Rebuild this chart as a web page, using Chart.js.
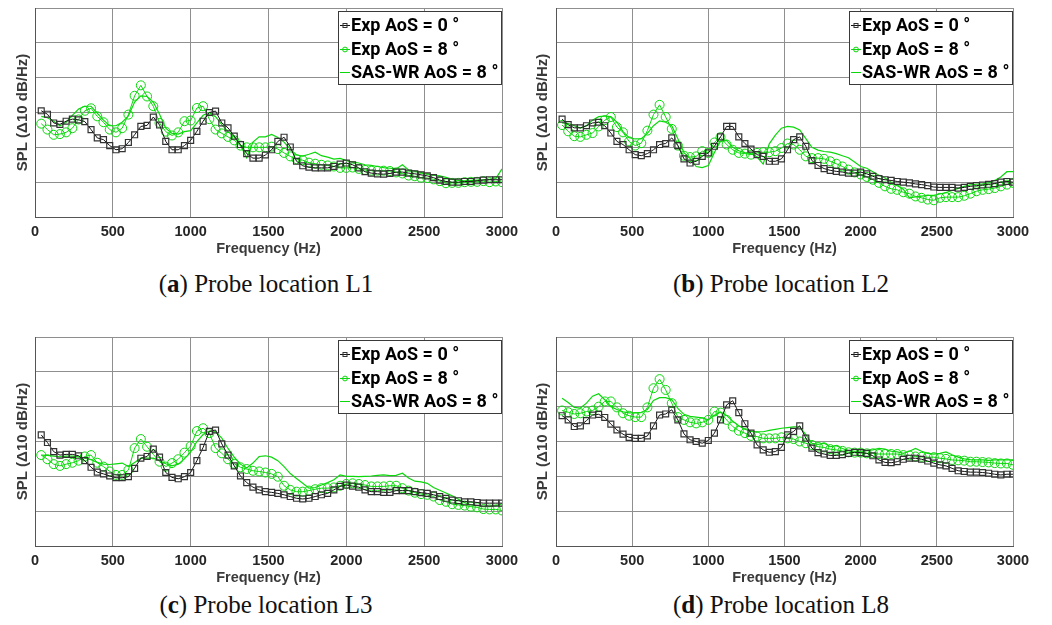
<!DOCTYPE html>
<html>
<head>
<meta charset="utf-8">
<script src="https://cdn.jsdelivr.net/npm/chart.js@4.4.1/dist/chart.umd.min.js"></script>
<style>
  body { margin: 0; background: #fff; width: 1052px; height: 625px; overflow: hidden; position: relative; }
  .panel { position: absolute; }
  .caption {
    position: absolute; width: 320px; text-align: center;
    font-family: 'Liberation Serif', 'Times New Roman', serif; font-size: 25px; line-height: 25px; color: #111;
  }
</style>
</head>
<body>
<div class="panel" style="left:0;top:0"><canvas id="chart-l1" width="520" height="258"></canvas></div>
<div class="panel" style="left:520px;top:0"><canvas id="chart-l2" width="532" height="258"></canvas></div>
<div class="panel" style="left:0;top:320px"><canvas id="chart-l3" width="520" height="267"></canvas></div>
<div class="panel" style="left:520px;top:320px"><canvas id="chart-l8" width="532" height="267"></canvas></div>
<div class="caption" style="left:106px;top:271px">(<b>a</b>) Probe location L1</div>
<div class="caption" style="left:621px;top:271px">(<b>b</b>) Probe location L2</div>
<div class="caption" style="left:106px;top:592px">(<b>c</b>) Probe location L3</div>
<div class="caption" style="left:621px;top:592px">(<b>d</b>) Probe location L8</div>
<script>
// frequency samples (Hz)
const freqHz = [40, 80, 120, 160, 200, 240, 280, 320, 360, 400, 440, 480, 520, 560, 600,
  640, 680, 720, 760, 800, 840, 880, 920, 960, 1000, 1040, 1080, 1120, 1160, 1200,
  1240, 1280, 1320, 1360, 1400, 1440, 1480, 1520, 1560, 1600, 1640, 1680, 1720, 1760, 1800,
  1840, 1880, 1920, 1960, 2000, 2040, 2080, 2120, 2160, 2200, 2240, 2280, 2320, 2360, 2400,
  2440, 2480, 2520, 2560, 2600, 2640, 2680, 2720, 2760, 2800, 2840, 2880, 2920, 2960, 3000];
const tickHz = [0, 500, 1000, 1500, 2000, 2500, 3000];
const seriesNames = ['Exp AoS = 0 °', 'Exp AoS = 8 °', 'SAS-WR AoS = 8 °'];

// SPL in 10 dB/Hz steps (relative)
const l1Exp0 = [3.05, 2.95, 2.70, 2.66, 2.75, 2.81, 2.79, 2.74, 2.51, 2.27, 2.22, 2.05, 1.93, 1.96, 2.14,
  2.36, 2.60, 2.63, 2.87, 2.64, 2.17, 1.93, 1.93, 2.05, 2.20, 2.46, 2.75, 3.00, 3.04, 2.70,
  2.56, 2.32, 2.08, 1.82, 1.69, 1.69, 1.78, 1.93, 2.17, 2.29, 2.01, 1.60, 1.47, 1.43, 1.41,
  1.41, 1.41, 1.45, 1.52, 1.55, 1.50, 1.41, 1.30, 1.26, 1.24, 1.23, 1.25, 1.29, 1.29, 1.26,
  1.24, 1.21, 1.18, 1.13, 1.06, 1.02, 1.00, 1.00, 1.02, 1.02, 1.04, 1.06, 1.07, 1.07, 1.07];
const l1Exp8 = [2.68, 2.51, 2.36, 2.38, 2.43, 2.55, 2.80, 3.05, 3.12, 2.89, 2.72, 2.51, 2.43, 2.55, 2.94,
  3.48, 3.78, 3.46, 3.18, 2.70, 2.45, 2.34, 2.43, 2.75, 2.77, 3.13, 3.18, 2.81, 2.51, 2.40,
  2.30, 2.20, 2.05, 2.00, 2.00, 2.00, 2.00, 2.02, 1.95, 1.84, 1.74, 1.66, 1.63, 1.56, 1.53,
  1.50, 1.48, 1.45, 1.41, 1.41, 1.42, 1.38, 1.35, 1.33, 1.33, 1.33, 1.32, 1.28, 1.25, 1.19,
  1.17, 1.13, 1.12, 1.08, 1.03, 0.97, 0.98, 0.98, 1.00, 1.01, 1.01, 1.03, 1.00, 1.02, 1.00];
const l1Sas = [2.89, 2.85, 2.75, 2.62, 2.72, 2.92, 3.10, 3.18, 3.18, 2.98, 2.78, 2.62, 2.62, 2.72, 2.90,
  3.30, 3.48, 3.46, 3.30, 2.95, 2.55, 2.40, 2.38, 2.45, 2.48, 2.70, 2.92, 3.00, 2.88, 2.65,
  2.45, 2.30, 2.05, 1.70, 2.15, 2.30, 2.30, 2.37, 2.28, 2.15, 1.95, 1.78, 1.75, 1.80, 1.86,
  1.76, 1.72, 1.66, 1.68, 1.62, 1.58, 1.55, 1.50, 1.48, 1.45, 1.42, 1.40, 1.38, 1.50, 1.35,
  1.32, 1.28, 1.22, 1.20, 1.18, 1.14, 1.08, 1.05, 1.04, 1.05, 1.06, 1.07, 1.08, 1.10, 1.38];

const l2Exp0 = [2.81, 2.65, 2.56, 2.56, 2.62, 2.70, 2.72, 2.62, 2.41, 2.17, 2.08, 1.93, 1.79, 1.76, 1.82,
  1.93, 2.08, 2.11, 2.27, 2.05, 1.67, 1.55, 1.60, 1.74, 1.84, 2.03, 2.30, 2.60, 2.60, 2.30,
  2.11, 1.95, 1.79, 1.74, 1.60, 1.60, 1.67, 1.93, 2.22, 2.30, 2.03, 1.62, 1.48, 1.39, 1.34,
  1.31, 1.29, 1.26, 1.26, 1.29, 1.24, 1.17, 1.10, 1.07, 1.05, 1.02, 1.00, 0.98, 0.95, 0.93,
  0.90, 0.86, 0.85, 0.85, 0.85, 0.83, 0.85, 0.88, 0.90, 0.92, 0.94, 0.96, 1.00, 1.02, 1.00];
const l2Exp8 = [2.64, 2.46, 2.32, 2.30, 2.36, 2.41, 2.60, 2.78, 2.87, 2.58, 2.43, 2.17, 2.05, 2.12, 2.48,
  2.94, 3.22, 2.87, 2.53, 2.05, 1.76, 1.72, 1.74, 1.89, 1.84, 2.14, 2.29, 2.08, 1.93, 1.84,
  1.82, 1.79, 1.84, 1.86, 1.86, 1.89, 1.98, 2.11, 2.08, 1.93, 1.74, 1.69, 1.69, 1.67, 1.60,
  1.53, 1.45, 1.36, 1.28, 1.22, 1.15, 1.07, 0.98, 0.88, 0.81, 0.78, 0.71, 0.67, 0.59, 0.55,
  0.50, 0.48, 0.55, 0.57, 0.57, 0.57, 0.61, 0.67, 0.74, 0.78, 0.80, 0.83, 0.88, 0.93, 0.98];
const l2Sas = [2.70, 2.68, 2.62, 2.55, 2.62, 2.78, 2.88, 2.90, 2.88, 2.72, 2.45, 2.28, 2.24, 2.25, 2.40,
  2.62, 2.76, 2.72, 2.62, 2.25, 1.85, 1.68, 1.45, 1.42, 1.48, 1.85, 2.18, 2.20, 2.00, 1.90,
  1.85, 1.82, 1.72, 1.52, 2.10, 2.35, 2.55, 2.60, 2.58, 2.50, 2.25, 2.00, 1.92, 1.88, 1.86,
  1.82, 1.76, 1.70, 1.58, 1.45, 1.40, 1.30, 1.20, 1.12, 1.00, 0.90, 0.80, 0.55, 0.58, 0.60,
  0.62, 0.62, 0.66, 0.70, 0.76, 0.82, 0.88, 0.92, 0.94, 0.95, 0.98, 1.05, 1.15, 1.30, 1.30];

const l3Exp0 = [3.19, 2.97, 2.71, 2.61, 2.63, 2.63, 2.59, 2.45, 2.26, 2.12, 2.07, 2.01, 1.96, 1.96, 1.99,
  2.23, 2.52, 2.57, 2.78, 2.55, 2.11, 1.97, 1.93, 1.99, 2.11, 2.45, 2.83, 3.29, 3.33, 2.93,
  2.61, 2.30, 2.01, 1.82, 1.69, 1.61, 1.56, 1.54, 1.51, 1.47, 1.42, 1.37, 1.35, 1.37, 1.42,
  1.47, 1.51, 1.61, 1.71, 1.75, 1.72, 1.69, 1.61, 1.56, 1.56, 1.54, 1.54, 1.59, 1.59, 1.59,
  1.56, 1.53, 1.51, 1.47, 1.42, 1.37, 1.32, 1.30, 1.27, 1.27, 1.25, 1.23, 1.23, 1.23, 1.23];
const l3Exp8 = [2.61, 2.49, 2.35, 2.30, 2.35, 2.39, 2.45, 2.57, 2.61, 2.39, 2.28, 2.14, 2.04, 2.04, 2.18,
  2.81, 3.07, 2.85, 2.63, 2.42, 2.28, 2.38, 2.49, 2.68, 2.87, 3.30, 3.38, 3.24, 2.81, 2.66,
  2.49, 2.36, 2.26, 2.21, 2.16, 2.14, 2.11, 2.07, 1.99, 1.73, 1.61, 1.56, 1.56, 1.59, 1.63,
  1.66, 1.66, 1.68, 1.73, 1.78, 1.80, 1.78, 1.75, 1.71, 1.71, 1.71, 1.73, 1.73, 1.66, 1.59,
  1.53, 1.49, 1.47, 1.42, 1.32, 1.27, 1.20, 1.18, 1.16, 1.13, 1.11, 1.06, 1.05, 1.05, 1.02];
const l3Sas = [2.61, 2.60, 2.58, 2.56, 2.58, 2.58, 2.55, 2.52, 2.48, 2.40, 2.35, 2.34, 2.36, 2.38, 2.28,
  2.40, 2.52, 2.52, 2.52, 2.45, 2.36, 2.30, 2.35, 2.50, 2.70, 3.00, 3.20, 3.30, 3.28, 3.10,
  2.80, 2.55, 2.35, 2.24, 2.38, 2.57, 2.59, 2.55, 2.45, 2.28, 2.08, 1.94, 1.80, 1.66, 1.68,
  1.75, 1.82, 1.90, 2.04, 2.00, 2.00, 1.99, 2.00, 2.01, 2.03, 2.04, 2.02, 2.03, 2.09, 1.95,
  1.86, 1.84, 1.80, 1.68, 1.60, 1.52, 1.44, 1.34, 1.24, 1.18, 1.16, 1.13, 1.13, 1.16, 1.21];

const l8Exp0 = [3.74, 3.62, 3.43, 3.45, 3.60, 3.76, 3.78, 3.69, 3.50, 3.33, 3.21, 3.12, 3.09, 3.09, 3.16,
  3.45, 3.76, 3.79, 3.91, 3.62, 3.22, 3.05, 3.00, 2.95, 3.03, 3.24, 3.62, 4.05, 4.17, 3.83,
  3.51, 3.24, 2.90, 2.76, 2.69, 2.71, 2.83, 3.19, 3.29, 3.45, 3.10, 2.81, 2.68, 2.64, 2.60,
  2.60, 2.62, 2.66, 2.69, 2.68, 2.66, 2.59, 2.47, 2.40, 2.39, 2.42, 2.49, 2.52, 2.52, 2.49,
  2.44, 2.38, 2.33, 2.30, 2.23, 2.16, 2.14, 2.12, 2.12, 2.11, 2.09, 2.06, 2.04, 2.06, 2.06];
const l8Exp8 = [3.89, 3.84, 3.79, 3.81, 3.86, 3.89, 4.00, 4.15, 4.15, 3.98, 3.81, 3.74, 3.70, 3.70, 3.98,
  4.53, 4.79, 4.48, 4.10, 3.70, 3.62, 3.55, 3.52, 3.55, 3.62, 3.86, 3.83, 3.62, 3.43, 3.31,
  3.24, 3.16, 3.14, 3.09, 3.09, 3.09, 3.12, 3.09, 3.07, 3.00, 2.95, 2.90, 2.85, 2.83, 2.78,
  2.76, 2.73, 2.69, 2.68, 2.68, 2.66, 2.66, 2.64, 2.64, 2.64, 2.64, 2.61, 2.60, 2.57, 2.56,
  2.55, 2.55, 2.52, 2.50, 2.47, 2.46, 2.45, 2.42, 2.42, 2.41, 2.40, 2.38, 2.37, 2.37, 2.33];
const l8Sas = [4.24, 4.12, 3.98, 3.96, 4.10, 4.30, 4.37, 4.20, 4.00, 3.92, 3.85, 3.82, 3.82, 3.84, 3.92,
  4.18, 4.26, 4.26, 4.20, 3.95, 3.78, 3.72, 3.70, 3.68, 3.62, 3.75, 3.85, 3.75, 3.58, 3.45,
  3.35, 3.30, 3.28, 3.28, 3.32, 3.35, 3.38, 3.40, 3.42, 3.42, 3.20, 2.95, 2.92, 2.95, 2.85,
  2.88, 2.80, 2.74, 2.72, 2.72, 2.74, 2.76, 2.80, 2.78, 2.72, 2.70, 2.66, 2.72, 2.80, 2.72,
  2.66, 2.64, 2.66, 2.70, 2.62, 2.55, 2.50, 2.48, 2.47, 2.47, 2.46, 2.47, 2.47, 2.47, 2.47];

const GREEN = '#0ad80a';
const LEGEND_FONT = 'bold 18px Roboto';
const AXIS_FONT = 'Liberation Sans';

// legend box drawn inside the top-right corner of the plot
const boxLegend = {
  id: 'boxLegend',
  afterDatasetsDraw(chart) {
    const { ctx, chartArea } = chart;
    const sets = chart.data.datasets;
    ctx.save();
    ctx.font = LEGEND_FONT;
    const textW = Math.max(...sets.map(d => ctx.measureText(d.label).width));
    const w = Math.round(textW + 16);
    const h = 73;
    const x = Math.round(chartArea.right - 1 - w);
    const y = Math.round(chartArea.top + 3);
    ctx.fillStyle = '#fff';
    ctx.fillRect(x, y, w, h);
    ctx.strokeStyle = '#3a3a3a';
    ctx.lineWidth = 1;
    ctx.setLineDash([]);
    ctx.strokeRect(x + 0.5, y + 0.5, w, h);
    ctx.restore();

    sets.forEach((d, i) => {
      const cy = Math.round(y + 14 + i * 23.6) + 0.5;
      const mx = x + 7;
      ctx.save();
      ctx.setLineDash([]);
      ctx.lineWidth = 1;
      ctx.strokeStyle = d.borderColor;
      ctx.beginPath();
      ctx.moveTo(x + 2, cy);
      ctx.lineTo(x + 12, cy);
      ctx.stroke();
      if (d.pointStyle === 'rect') {
        ctx.strokeStyle = d.pointBorderColor;
        ctx.strokeRect(mx - 2, cy - 2, 4, 4);
      } else if (d.pointStyle === 'circle') {
        ctx.strokeStyle = d.pointBorderColor;
        ctx.beginPath();
        ctx.arc(mx, cy, 2.4, 0, Math.PI * 2);
        ctx.stroke();
      }
      ctx.font = LEGEND_FONT;
      ctx.fillStyle = '#000';
      ctx.textBaseline = 'middle';
      ctx.textAlign = 'left';
      ctx.fillText(d.label, x + 13, cy + 1);
      ctx.restore();
    });
  }
};

function toPoints(values) {
  return values.map((v, i) => ({ x: freqHz[i], y: v }));
}

function buildPanel(canvasId, exp0, exp8, sas, area) {
  const canvas = document.getElementById(canvasId);
  const padLeft = 11;

  const datasets = [
    {
      label: seriesNames[0],
      data: toPoints(exp0),
      borderColor: '#111',
      borderWidth: 1,
      pointStyle: 'rect',
      pointRadius: 4.2,
      pointBorderColor: '#333',
      pointBackgroundColor: 'rgba(0,0,0,0)',
      pointBorderWidth: 1.2
    },
    {
      label: seriesNames[1],
      data: toPoints(exp8),
      borderColor: GREEN,
      borderWidth: 1,
      pointStyle: 'circle',
      pointRadius: 4.5,
      pointBorderColor: GREEN,
      pointBackgroundColor: 'rgba(0,0,0,0)',
      pointBorderWidth: 1
    },
    {
      label: seriesNames[2],
      data: toPoints(sas),
      borderColor: GREEN,
      borderWidth: 1.2,
      pointRadius: 0
    }
  ];

  return new Chart(canvas, {
    type: 'line',
    data: { datasets },
    plugins: [boxLegend],
    options: {
      responsive: false,
      animation: false,
      devicePixelRatio: 1,
      layout: {
        padding: { left: padLeft, top: area.top, right: canvas.width - area.right, bottom: 0 }
      },
      plugins: { legend: { display: false }, tooltip: { enabled: false } },
      scales: {
        x: {
          type: 'linear',
          min: 0,
          max: 3000,
          afterBuildTicks: s => { s.ticks = tickHz.map(v => ({ value: v })); },
          afterFit: s => {
            s.height = canvas.height - area.bottom;
            // keep the plot box where the layout says, labels may overhang
            s.paddingLeft = 0;
            s.paddingRight = 0;
          },
          ticks: {
            color: '#262626', padding: 6, maxRotation: 0,
            callback: v => String(v),
            font: { family: AXIS_FONT, weight: 'bold', size: 14.5 }
          },
          grid: { color: '#8f8f8f', drawTicks: false },
          border: { color: '#555' },
          title: {
            display: true, text: 'Frequency (Hz)', color: '#3a3a3a',
            font: { family: AXIS_FONT, weight: 'bold', size: 14.5 },
            padding: { top: 0, bottom: 0 }
          }
        },
        y: {
          min: 0,
          max: 6,
          afterFit: s => { s.width = area.left - padLeft; },
          ticks: { display: false, stepSize: 1 },
          grid: { color: '#8f8f8f', drawTicks: false },
          border: { color: '#555' },
          title: {
            display: true, text: 'SPL (Δ10 dB/Hz)', color: '#3a3a3a',
            font: { family: AXIS_FONT, weight: 'bold', size: 15 },
            padding: { top: 3, bottom: 3 }
          }
        }
      }
    }
  });
}

const charts = [
  buildPanel('chart-l1', l1Exp0, l1Exp8, l1Sas, { left: 35, right: 502, top: 8, bottom: 217 }),
  buildPanel('chart-l2', l2Exp0, l2Exp8, l2Sas, { left: 36, right: 493, top: 8, bottom: 217 }),
  buildPanel('chart-l3', l3Exp0, l3Exp8, l3Sas, { left: 35, right: 502, top: 17, bottom: 226 }),
  buildPanel('chart-l8', l8Exp0, l8Exp8, l8Sas, { left: 36, right: 493, top: 17, bottom: 226 })
];
</script>
</body>
</html>
